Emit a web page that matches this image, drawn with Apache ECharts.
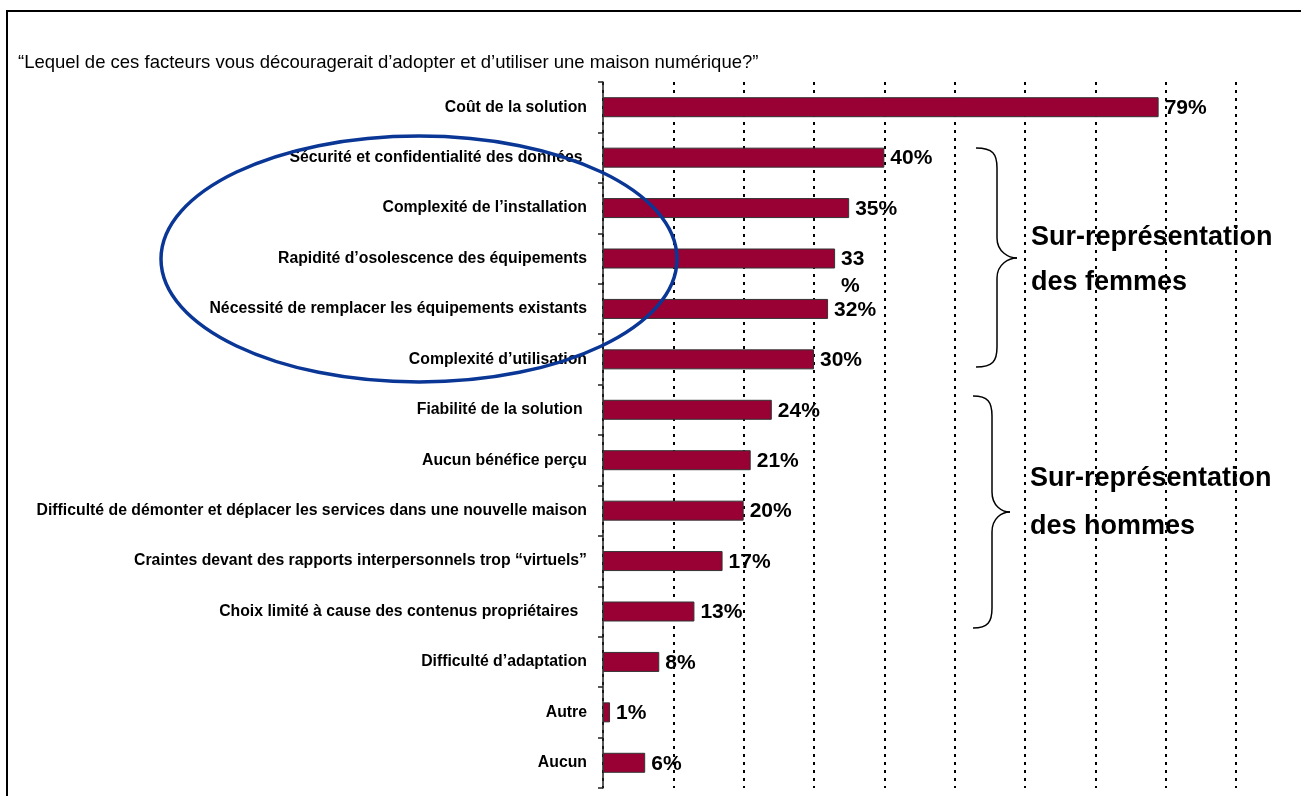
<!DOCTYPE html>
<html>
<head>
<meta charset="utf-8">
<script src="https://cdn.jsdelivr.net/npm/echarts@6/dist/echarts.min.js"></script>
<style>
html,body{margin:0;padding:0;background:#fff;}
#c{width:1301px;height:796px;}
</style>
</head>
<body>
<div id="c"></div>
<script>
const titleText = '“Lequel de ces facteurs vous découragerait d’adopter et d’utiliser une maison numérique?”';
const categories = [
  'Coût de la solution',
  'Sécurité et confidentialité des données ',
  'Complexité de l’installation',
  'Rapidité d’osolescence des équipements',
  'Nécessité de remplacer les équipements existants',
  'Complexité d’utilisation',
  'Fiabilité de la solution ',
  'Aucun bénéfice perçu',
  'Difficulté de démonter et déplacer les services dans une nouvelle maison',
  'Craintes devant des rapports interpersonnels trop “virtuels”',
  'Choix limité à cause des contenus propriétaires  ',
  'Difficulté d’adaptation',
  'Autre',
  'Aucun'
];
const values = [79, 40, 35, 33, 32, 30, 24, 21, 20, 17, 13, 8, 1, 6];
const groupLabels = [
  ['Sur-représentation', 'des femmes'],
  ['Sur-représentation', 'des hommes']
];

const FONT = '"Liberation Sans", Arial, sans-serif';
const chart = echarts.init(document.getElementById('c'), null, {renderer: 'canvas'});

function brace(xTip, spine, point, top, mid, bottom) {
  const r = 20;
  const s = {stroke: '#000', lineWidth: 1.5, fill: null};
  return [
    {type: 'bezierCurve', shape: {x1: xTip, y1: top, cpx1: spine - 4, cpy1: top, cpx2: spine, cpy2: top + 6, x2: spine, y2: top + r}, style: s},
    {type: 'line', shape: {x1: spine, y1: top + r, x2: spine, y2: mid - r}, style: s},
    {type: 'bezierCurve', shape: {x1: spine, y1: mid - r, cpx1: spine, cpy1: mid - 6, cpx2: point - 8, cpy2: mid, x2: point, y2: mid}, style: s},
    {type: 'bezierCurve', shape: {x1: point, y1: mid, cpx1: point - 8, cpy1: mid, cpx2: spine, cpy2: mid + 6, x2: spine, y2: mid + r}, style: s},
    {type: 'line', shape: {x1: spine, y1: mid + r, x2: spine, y2: bottom - r}, style: s},
    {type: 'bezierCurve', shape: {x1: spine, y1: bottom - r, cpx1: spine, cpy1: bottom - 6, cpx2: spine - 4, cpy2: bottom, x2: xTip, y2: bottom}, style: s}
  ];
}

const option = {
  animation: false,
  backgroundColor: '#fff',
  grid: {left: 603, top: 82, width: 633, height: 706, containLabel: false},
  xAxis: {
    type: 'value', min: 0, max: 90, interval: 10,
    axisLine: {show: false}, axisTick: {show: false}, axisLabel: {show: false},
    splitLine: {show: true, lineStyle: {color: '#000', width: 2, type: [3, 5]}}
  },
  yAxis: {
    type: 'category', inverse: true, data: categories,
    axisLine: {show: true, lineStyle: {color: '#222', width: 1.5}},
    axisTick: {show: true, length: 5, lineStyle: {color: '#222', width: 1.5}},
    axisLabel: {color: '#000', fontFamily: FONT, fontWeight: 'bold', fontSize: 15.8, margin: 16}
  },
  series: [{
    type: 'bar',
    data: values,
    barWidth: 20,
    itemStyle: {color: '#990033', borderColor: '#333', borderWidth: 1},
    label: {
      show: true, position: 'right', distance: 6,
      color: '#000', fontFamily: FONT, fontWeight: 'bold', fontSize: 21,
      formatter: p => p.value === 33 ? '33\n%' : p.value + '%',
      lineHeight: 27
    },
    labelLayout: p => (p.dataIndex === 3 ? {dy: 14} : {dy: 1}),
    z: 3
  }],
  graphic: [
    {type: 'rect', shape: {x: 7, y: 11, width: 1400, height: 900}, style: {fill: null, stroke: '#000', lineWidth: 2}, z: 1},
    {type: 'text', x: 18, y: 63, style: {text: titleText, font: '18.5px ' + FONT, fill: '#000', textVerticalAlign: 'middle'}},
    {type: 'group', children: brace(976, 997, 1017, 148, 258, 367)},
    {type: 'group', children: brace(973, 992, 1010, 396, 512, 628)},
    {type: 'text', x: 1031, y: 238, style: {text: groupLabels[0][0], font: 'bold 27px ' + FONT, fill: '#000', textVerticalAlign: 'middle'}},
    {type: 'text', x: 1031, y: 283, style: {text: groupLabels[0][1], font: 'bold 27px ' + FONT, fill: '#000', textVerticalAlign: 'middle'}},
    {type: 'text', x: 1030, y: 479, style: {text: groupLabels[1][0], font: 'bold 27px ' + FONT, fill: '#000', textVerticalAlign: 'middle'}},
    {type: 'text', x: 1030, y: 527, style: {text: groupLabels[1][1], font: 'bold 27px ' + FONT, fill: '#000', textVerticalAlign: 'middle'}},
    {type: 'ellipse', shape: {cx: 419, cy: 259, rx: 258, ry: 123}, style: {fill: null, stroke: '#0A3696', lineWidth: 3.5}, z: 100}
  ]
};
chart.setOption(option);
</script>
</body>
</html>
